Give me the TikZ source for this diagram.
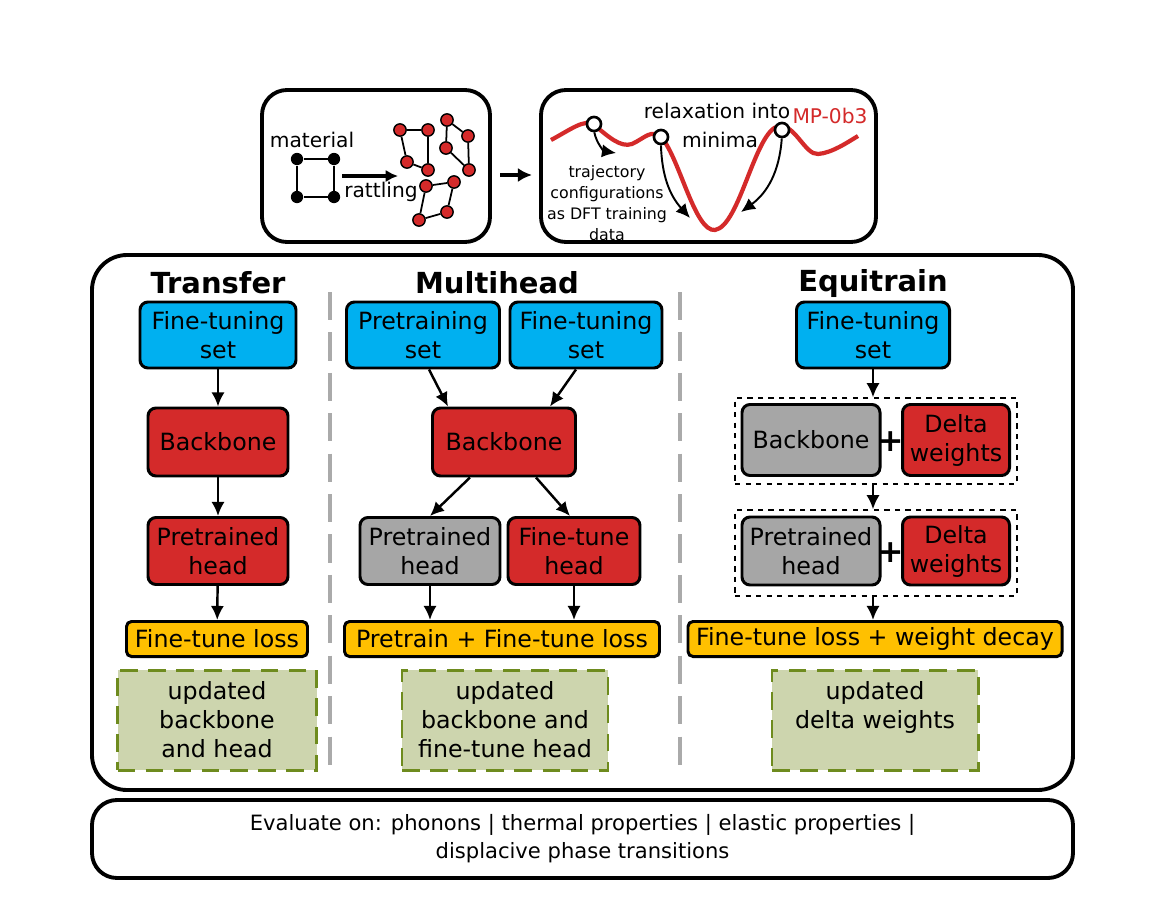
\documentclass[tikz,border=0pt]{standalone}
\usepackage{fontspec}
\setmainfont{DejaVu Sans}
\usetikzlibrary{arrows.meta,calc}
\definecolor{cy}{HTML}{00B0F0}
\definecolor{rd}{HTML}{D42A2A}
\definecolor{gy}{HTML}{A6A6A6}
\definecolor{og}{HTML}{FFC000}
\definecolor{gf}{HTML}{CDD5AE}
\definecolor{gb}{HTML}{6E8B1E}
\definecolor{sep}{HTML}{AAAAAA}
\begin{document}
\begin{tikzpicture}[x=0.02cm,y=-0.02cm,
  bx/.style={draw=black,line width=1.7pt,rounded corners=0.16cm,align=center,inner sep=0pt,
    font=\fontsize{13.5}{16.5}\selectfont},
  cyb/.style={bx,fill=cy},
  rdb/.style={bx,fill=rd},
  gyb/.style={bx,fill=gy},
  ogb/.style={bx,fill=og,rounded corners=0.1cm},
  grb/.style={draw=gb,fill=gf,line width=1.7pt,dash pattern=on 10pt off 6pt,align=center,inner sep=0pt,
    font=\fontsize{13.5}{16.5}\selectfont},
  ar/.style={line width=1.4pt,-{Latex[length=8pt,width=7.5pt]}},
  big/.style={draw=black,line width=2.2pt,rounded corners=0.5cm},
  ttl/.style={font=\bfseries\fontsize{16.5}{18}\selectfont},
  atomr/.style={circle,draw=black,fill=rd,line width=0.8pt,minimum size=7pt,inner sep=0pt},
  atomb/.style={circle,fill=black,minimum size=7pt,inner sep=0pt},
  ring/.style={circle,draw=black,fill=white,line width=1.5pt,minimum size=8pt,inner sep=0pt},
  sm/.style={font=\fontsize{9}{12}\selectfont,align=center},
  md/.style={font=\fontsize{11.5}{14}\selectfont,align=center}]
\useasboundingbox[fill=white] (0,0) rectangle (1164,923);

% top boxes
\draw[big] (262,90) rectangle (490,242);
\draw[big] (541,90) rectangle (876,242);
\coordinate (ta) at (500,175); \coordinate (tb) at (532,175);
\draw[line width=2.2pt,-{Latex[length=8pt,width=8pt]}] (ta) -- (tb);

% left top drawing
\node[atomb] (s1) at (297,159) {}; \node[atomb] (s2) at (334,159) {};
\node[atomb] (s3) at (334,197) {}; \node[atomb] (s4) at (297,197) {};
\draw[line width=1pt] (s1)--(s2)--(s3)--(s4)--(s1);
\node[md] (mat) at (312,140) {material};
\node[md] (rat) at (381,192) {rattling};
\coordinate (ra) at (342,176); \coordinate (rb) at (398,176);
\draw[line width=1.8pt,-{Latex[length=7pt,width=7pt]}] (ra) -- (rb);
\node[atomr] (a1) at (400,130) {}; \node[atomr] (a2) at (428,130) {};
\node[atomr] (a3) at (428,170) {}; \node[atomr] (a4) at (407,162) {};
\draw[line width=1pt] (a1)--(a2)--(a3)--(a4)--(a1);
\node[atomr] (b1) at (447,120) {}; \node[atomr] (b2) at (468,136) {};
\node[atomr] (b3) at (469,170) {}; \node[atomr] (b4) at (446,148) {};
\draw[line width=1pt] (b1)--(b2)--(b3)--(b4)--(b1);
\node[atomr] (c1) at (426,186) {}; \node[atomr] (c2) at (454,182) {};
\node[atomr] (c3) at (447,212) {}; \node[atomr] (c4) at (419,220) {};
\draw[line width=1pt] (c1)--(c2)--(c3)--(c4)--(c1);

% right top drawing
\draw[rd,line width=2.4pt] (551,140) .. controls (570,130) and (585,118) .. (594,125)
  .. controls (608,136) and (620,148) .. (632,144)
  .. controls (645,138) and (652,128) .. (662,138)
  .. controls (680,160) and (695,232) .. (715,230)
  .. controls (740,226) and (755,130) .. (779,126)
  .. controls (795,124) and (805,155) .. (818,154)
  .. controls (832,153) and (848,142) .. (858,136);
\node[ring] (r1) at (594,124) {};
\node[ring] (r2) at (661,137) {};
\node[ring] (r3) at (782,130) {};
\coordinate (e1) at (616,153);
\coordinate (e2) at (690,218);
\coordinate (e3) at (741,212);
\draw[ar,line width=1.1pt] (r1) to[bend right=35] (e1);
\draw[ar,line width=1.1pt] (r2) to[bend right=20] (e2);
\draw[ar,line width=1.1pt] (r3) to[bend left=25] (e3);
\node[md] (rel) at (717,111) {relaxation into};
\node[md] (min) at (720,140) {minima};
\node[md,text=rd] (mp) at (830,116) {MP-0b3};
\node[sm] (traj) at (607,203) {trajectory\\configurations\\as DFT training\\data};

% main box
\draw[big,rounded corners=0.7cm] (92,255) rectangle (1073,790);
\draw[sep,line width=2.2pt,dash pattern=on 16pt off 7pt] (330,292) -- (330,772);
\draw[sep,line width=2.2pt,dash pattern=on 16pt off 7pt] (680,292) -- (680,772);
\node[ttl] (t1) at (218,283) {Transfer};
\node[ttl] (t2) at (497,283) {Multihead};
\node[ttl] (t3) at (873,283) {Equitrain};

% Transfer
\node[cyb,minimum width=156*0.02cm,minimum height=66*0.02cm] (ft1) at (218,335) {Fine-tuning\\set};
\node[rdb,minimum width=140*0.02cm,minimum height=68*0.02cm] (bb1) at (218,442) {Backbone};
\node[rdb,minimum width=140*0.02cm,minimum height=67*0.02cm] (ph1) at (218,551) {Pretrained\\head};
\node[ogb,minimum width=181*0.02cm,minimum height=35*0.02cm] (ls1) at (217,639) {Fine-tune loss};
\node[grb,minimum width=199*0.02cm,minimum height=100*0.02cm] (up1) at (217,720) {updated\\backbone\\and head};
\draw[ar] (ft1) -- (bb1);
\draw[ar] (bb1) -- (ph1);
\draw[ar] (ph1) -- (ls1);

% Multihead
\node[cyb,minimum width=153*0.02cm,minimum height=66*0.02cm] (pt2) at (423,335) {Pretraining\\set};
\node[cyb,minimum width=152*0.02cm,minimum height=66*0.02cm] (ft2) at (586,335) {Fine-tuning\\set};
\node[rdb,minimum width=143*0.02cm,minimum height=68*0.02cm] (bb2) at (504,442) {Backbone};
\node[gyb,minimum width=140*0.02cm,minimum height=67*0.02cm] (ph2) at (430,551) {Pretrained\\head};
\node[rdb,minimum width=132*0.02cm,minimum height=67*0.02cm] (fh2) at (574,551) {Fine-tune\\head};
\node[ogb,minimum width=315*0.02cm,minimum height=35*0.02cm] (ls2) at (502,639) {Pretrain + Fine-tune loss};
\node[grb,minimum width=206*0.02cm,minimum height=100*0.02cm] (up2) at (505,720) {updated\\backbone and\\fine-tune head};
\draw[ar] ($(pt2.south)+(6,0)$) -- ($(bb2.north)+(-56,0)$);
\draw[ar] ($(ft2.south)+(-10,0)$) -- ($(bb2.north)+(46,0)$);
\draw[ar] ($(bb2.south)+(-34,0)$) -- ($(ph2.north)+(0,0)$);
\draw[ar] ($(bb2.south)+(32,0)$) -- ($(fh2.north)+(-4,0)$);
\draw[ar] (ph2.south) -- (ph2.south |- ls2.north);
\draw[ar] (fh2.south) -- (fh2.south |- ls2.north);

% Equitrain
\node[cyb,minimum width=153*0.02cm,minimum height=66*0.02cm] (ft3) at (873,335) {Fine-tuning\\set};
\node[draw,dashed,line width=0.8pt,minimum width=282*0.02cm,minimum height=86*0.02cm,inner sep=0pt] (d1) at (876,441) {};
\node[draw,dashed,line width=0.8pt,minimum width=282*0.02cm,minimum height=86*0.02cm,inner sep=0pt] (d2) at (876,553) {};
\node[gyb,minimum width=138*0.02cm,minimum height=71*0.02cm] (bb3) at (811,440) {Backbone};
\node[rdb,minimum width=107*0.02cm,minimum height=71*0.02cm] (dw3) at (956,440) {Delta\\weights};
\node[font=\bfseries\fontsize{18}{18}\selectfont] (p1) at (891,442) {+};
\node[gyb,minimum width=138*0.02cm,minimum height=68*0.02cm] (ph3) at (811,551) {Pretrained\\head};
\node[rdb,minimum width=107*0.02cm,minimum height=68*0.02cm] (dw4) at (956,551) {Delta\\weights};
\node[font=\bfseries\fontsize{18}{18}\selectfont] (p2) at (891,553) {+};
\node[ogb,minimum width=374*0.02cm,minimum height=35*0.02cm] (ls3) at (875,639) {Fine-tune loss + weight decay};
\node[grb,minimum width=206*0.02cm,minimum height=100*0.02cm,
  label={[align=center,font=\fontsize{13.5}{16.5}\selectfont,yshift=0.26cm]center:updated\\delta weights}] (up3) at (875,720) {};
\draw[ar] (ft3) -- (ft3 |- d1.north);
\draw[ar] (ft3 |- d1.south) -- (ft3 |- d2.north);
\draw[ar] (ft3 |- d2.south) -- (ft3 |- ls3.north);

% bottom box
\node[draw=black,line width=2.2pt,rounded corners=0.5cm,minimum width=981*0.02cm,minimum height=78*0.02cm,
  align=center,font=\fontsize{12}{16}\selectfont,inner sep=0pt] (ev) at (582.5,839)
  {Evaluate on: phonons | thermal properties | elastic properties |\\displacive phase transitions};
\end{tikzpicture}
\end{document}
